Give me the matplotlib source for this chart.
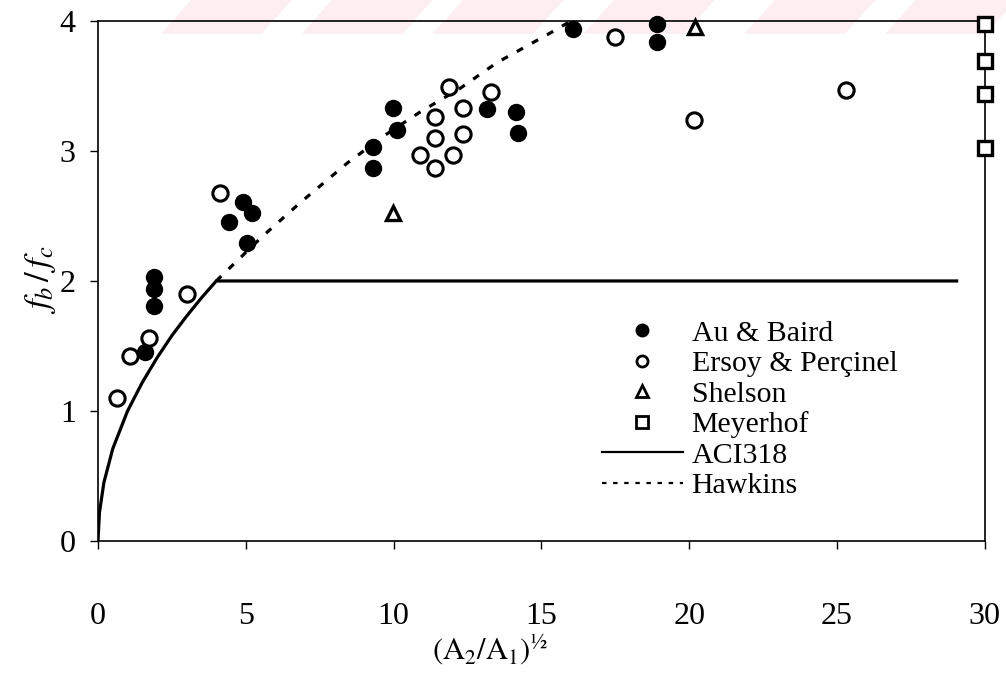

# import the needed packages
import numpy as np
import matplotlib
matplotlib.use('Agg')
import matplotlib.pyplot as plt
from matplotlib.lines import Line2D
from matplotlib.patches import Polygon


# fonts: serif text and Times-like mathtext
plt.rcParams['font.family'] = ['Liberation Serif', 'DejaVu Serif']
plt.rcParams['mathtext.fontset'] = 'stix'


# bearing strength ratio data, x = (A2/A1)^1/2, y = fb/fc
au_baird_x = [1.59, 1.89, 1.89, 1.89, 4.43, 4.90, 5.04, 5.21, 9.30, 9.30,
              9.98, 10.11, 13.15, 14.14, 14.20, 16.06, 18.90, 18.90]
au_baird_y = [1.45, 1.81, 1.94, 2.03, 2.45, 2.61, 2.29, 2.52, 2.87, 3.03,
              3.33, 3.16, 3.32, 3.30, 3.14, 3.94, 3.98, 3.84]

ersoy_x = [0.64, 1.08, 1.72, 3.00, 4.13, 10.89, 11.40, 11.40, 11.40, 11.88,
           12.00, 12.35, 12.35, 13.28, 17.48, 20.16, 25.30]
ersoy_y = [1.10, 1.42, 1.56, 1.90, 2.68, 2.97, 2.87, 3.10, 3.26, 3.49,
           2.97, 3.13, 3.33, 3.45, 3.88, 3.24, 3.47]

shelson_x = [9.98, 20.19]
shelson_y = [2.52, 3.95]

meyerhof_x = [30.0, 30.0, 30.0, 30.0]
meyerhof_y = [3.02, 3.44, 3.69, 3.98]

# design curves
aci_x = [0.0, 0.05, 0.2, 0.5, 1.0, 1.5, 2.0, 2.5, 3.0, 3.5, 4.0, 29.1]
aci_y = [0.0, 0.22, 0.45, 0.71, 1.00, 1.22, 1.41, 1.58, 1.73, 1.87, 2.00, 2.00]

hawkins_x = [4.0, 5.55, 6.83, 8.45, 9.70, 10.90, 12.24, 13.50, 15.40, 16.0]
hawkins_y = [2.00, 2.34, 2.60, 2.91, 3.12, 3.30, 3.48, 3.68, 3.92, 4.00]

x_ticks = [0, 5, 10, 15, 20, 25, 30]
y_ticks = [0, 1, 2, 3, 4]


fig = plt.figure(figsize=(10.06, 6.75), dpi=100)
ax = fig.add_axes([0.0974, 0.1985, 0.8816, 0.7705])
ax.patch.set_alpha(0)

# faint pink stripes across the top edge of the page
for x0 in [0.16, 0.30, 0.43, 0.58, 0.74, 0.88]:
    stripe = Polygon([[x0, 0.95], [x0 + 0.10, 0.95], [x0 + 0.13, 1.0], [x0 + 0.03, 1.0]],
                     closed=True, transform=fig.transFigure, facecolor='#fdeef1',
                     edgecolor='none', zorder=-1)
    fig.patches.append(stripe)

# curves
ax.plot(aci_x, aci_y, color='black', linewidth=2.3, solid_capstyle='butt', zorder=2)
ax.plot(hawkins_x, hawkins_y, color='black', linewidth=2.3,
        linestyle=(0, (2.2, 3.2)), zorder=2)

# data points
ax.plot(au_baird_x, au_baird_y, 'o', markersize=11.5, markerfacecolor='black',
        markeredgecolor='black', clip_on=False, zorder=3)
ax.plot(ersoy_x, ersoy_y, 'o', markersize=11, markerfacecolor='white',
        markeredgecolor='black', markeredgewidth=2.2, clip_on=False, zorder=3)
ax.plot(shelson_x, shelson_y, '^', markersize=10, markerfacecolor='white',
        markeredgecolor='black', markeredgewidth=2.4, clip_on=False, zorder=3)
ax.plot(meyerhof_x, meyerhof_y, 's', markersize=10, markerfacecolor='white',
        markeredgecolor='black', markeredgewidth=2.4, clip_on=False, zorder=3)

# axes limits, ticks and frame
ax.set_xlim(0, 30)
ax.set_ylim(0, 4)
ax.set_xticks(x_ticks)
ax.set_yticks(y_ticks)
ax.tick_params(axis='x', direction='out', length=6, width=1, pad=38, labelsize=23)
ax.tick_params(axis='y', direction='out', length=6, width=1, pad=10, labelsize=23)
for spine in ax.spines.values():
    spine.set_linewidth(1.2)

# axis titles
fig.text(490 / 1006, 1 - 650 / 675, r'$\mathrm{(A_2/A_1)^{½}}$', fontsize=22,
         ha='center', va='center')
fig.text(40 / 1006, 1 - 280 / 675, r'$f_b\,/\,f_c$', fontsize=25,
         rotation=90, ha='center', va='center')

# legend
handles = [
    Line2D([], [], linestyle='none', marker='o', markersize=9, markerfacecolor='black',
           markeredgecolor='black'),
    Line2D([], [], linestyle='none', marker='o', markersize=8, markerfacecolor='white',
           markeredgecolor='black', markeredgewidth=2),
    Line2D([], [], linestyle='none', marker='^', markersize=8, markerfacecolor='white',
           markeredgecolor='black', markeredgewidth=2),
    Line2D([], [], linestyle='none', marker='s', markersize=8, markerfacecolor='white',
           markeredgecolor='black', markeredgewidth=2),
    Line2D([], [], color='black', linewidth=1.6),
    Line2D([], [], color='black', linewidth=1.6, linestyle=(0, (2, 3))),
]
labels = ['Au & Baird', 'Ersoy & Perçinel', 'Shelson', 'Meyerhof', 'ACI318', 'Hawkins']
ax.legend(handles, labels, loc='upper left', bbox_to_anchor=(602 / 1006, 1 - 320 / 675),
          bbox_transform=fig.transFigure, frameon=False, fontsize=21.5,
          handlelength=2.7, handletextpad=0.3, labelspacing=0.12, borderpad=0,
          borderaxespad=0)

plt.savefig('out.png', dpi=100)
